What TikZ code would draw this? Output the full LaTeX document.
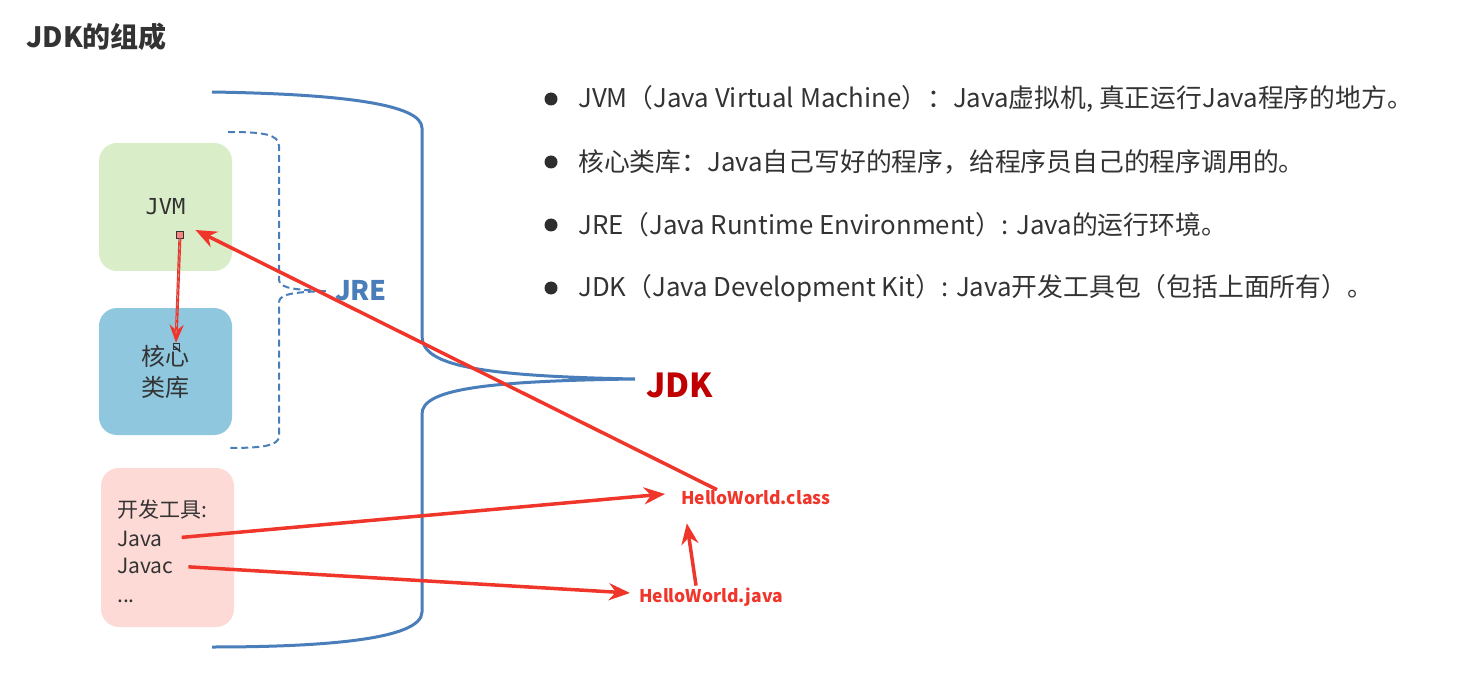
\documentclass[tikz,border=0pt]{standalone}
\usepackage{fontspec}
\setmainfont{Noto Sans CJK SC}
\newfontfamily\jvmfont{DejaVu Sans Mono}
\usepackage{xcolor}
\usetikzlibrary{arrows.meta,positioning}

\definecolor{jvmgreen}{HTML}{DAEDC9}
\definecolor{coreblue}{HTML}{8FC7DF}
\definecolor{toolpink}{HTML}{FDDAD5}
\definecolor{braceblue}{HTML}{4A7EBB}
\definecolor{arrowred}{HTML}{F0352B}
\definecolor{jdkred}{HTML}{C00000}
\definecolor{textgray}{HTML}{333333}

\tikzset{
  partbox/.style={rounded corners=18pt,minimum width=133pt,inner sep=0pt,align=center,text=textgray},
  tooltext/.style={anchor=west,inner sep=1pt,text=textgray,font=\fontsize{21}{24}\selectfont},
  redarrow/.style={draw=arrowred,line width=3.5pt,-{Stealth[length=21pt,width=17pt]}},
  filename/.style={text=arrowred,inner sep=2pt,font=\fontsize{17.5}{20}\selectfont\bfseries},
  bullettext/.style={anchor=west,inner sep=0pt,text=textgray,font=\fontsize{25.8}{30}\selectfont},
  bulletdot/.style={circle,fill=textgray!90!black,inner sep=0pt,minimum size=13pt},
  pin/.style={draw=black!80,fill=arrowred!60!white,minimum size=7pt,inner sep=0pt},
}

\begin{document}
\begin{tikzpicture}[x=1pt,y=-1pt]
\useasboundingbox (0,0) rectangle (1465,687);
\node[anchor=west,inner sep=0pt,text=textgray,font=\fontsize{28}{32}\selectfont\bfseries] (title) at (26,37) {JDK的组成};

% three parts
\node[partbox,fill=jvmgreen,minimum height=128pt,font=\fontsize{22}{26}\selectfont\jvmfont] (jvm) at (165.5,207) {JVM};
\node[partbox,fill=coreblue,minimum height=127pt,font=\fontsize{24}{31}\selectfont] (core) at (165.5,371.5) {核心\\类库};
\node[partbox,fill=toolpink,minimum height=159pt,minimum width=133pt] (tools) at (167.5,547.5) {};
\node[tooltext] (tooltitle) at (116,510) {开发工具:};
\node[tooltext] (java) at (116,539) {Java};
\node[tooltext] (javac) at (116,566) {Javac};
\node[tooltext] (dots) at (116,601) {...};

% JRE brace
\draw[braceblue,line width=2pt,dash pattern=on 7pt off 4pt]
  (228,132) .. controls (262,132) and (279,134) .. (279,146) -- (279,280)
  .. controls (279,289) and (300,290) .. (326,291)
  .. controls (300,292) and (279,293) .. (279,302) -- (279,436)
  .. controls (279,446) and (262,448) .. (228,448);
\node[text=braceblue,font=\fontsize{27}{30}\selectfont\bfseries] (jre) at (361,291) {JRE};

% JDK brace
\draw[braceblue,line width=3pt]
  (212,92) .. controls (340,94) and (422,104) .. (422,128) -- (422,336)
  .. controls (422,364) and (470,376) .. (635,379)
  .. controls (480,381) and (422,390) .. (422,414) -- (422,612)
  .. controls (422,640) and (320,647) .. (212,647);
\node[anchor=west,inner sep=0pt,text=jdkred,font=\fontsize{33}{36}\selectfont\bfseries] (jdk) at (646,385) {JDK};

% files
\node[filename,anchor=west] (cls) at (679,498) {HelloWorld.class};
\node[filename,anchor=west] (src) at (637,597) {HelloWorld.java};

% arrows
\node[pin] (jvmpin) at (180,235) {};
\node[pin,fill=none,minimum size=6pt] (corepin) at (176,346) {};
\draw[redarrow,line width=3pt,-{Stealth[length=18pt,width=14pt]}] (jvmpin) -- (corepin.north);
\draw[gray!70,line width=0.8pt,dash pattern=on 4pt off 3pt] (jvmpin) -- ([yshift=8pt]corepin.north);
\draw[redarrow] ([xshift=38pt,yshift=-1pt]cls.north west) -- ([xshift=30pt,yshift=-23pt]jvm.center);
\draw[redarrow,shorten <=18pt] (java.east) -- ([xshift=-14pt,yshift=4pt]cls.west);
\draw[redarrow,shorten <=14pt] (javac.east) -- ([xshift=-7pt,yshift=4pt]src.west);
\draw[redarrow] ([xshift=-15pt]src.north) -- ([xshift=-69pt,yshift=-16pt]cls.south);

% bullet list
\foreach \y/\txt [count=\i] in {
  99/{JVM（Java Virtual Machine）：Java虚拟机, 真正运行Java程序的地方。},
  162/{核心类库：Java自己写好的程序，给程序员自己的程序调用的。},
  225/{JRE（Java Runtime Environment）: Java的运行环境。},
  288/{JDK（Java Development Kit）: Java开发工具包（包括上面所有）。}} {
  \node[bulletdot] (dot\i) at (551,\y) {};
  \node[bullettext] (item\i) at (578,\y) {\txt};
}
\end{tikzpicture}
\end{document}
